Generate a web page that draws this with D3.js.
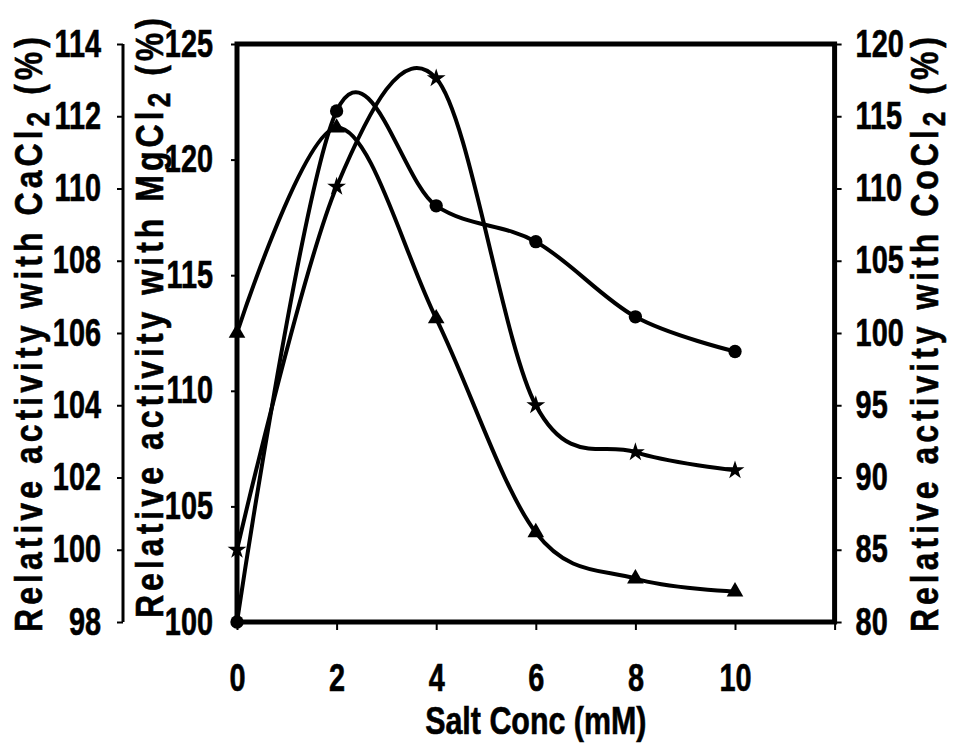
<!DOCTYPE html>
<html>
<head>
  <meta charset="utf-8" />
  <title>Relative activity vs salt concentration</title>
  <script src="https://d3js.org/d3.v7.min.js"></script>
  <style>
    body{margin:0;background:#fff;}
    svg text{font-family:"Liberation Sans",Arial,sans-serif;font-weight:bold;fill:#000;stroke:#000;stroke-width:0.6px;}
  </style>
</head>
<body>
<script>
// salt concentration (mM)
var conc = [0, 2, 4, 6, 8, 10];
// relative activity (%), one array per salt
var cacl2 = [100, 110.05, 113.05, 104.0, 102.7, 102.2];
var mgcl2 = [100, 122.1, 118.0, 116.45, 113.2, 111.7];
var cocl2 = [100, 114.2, 101.0, 86.2, 83.0, 82.1];
// axis ticks
var xTicks = [0, 2, 4, 6, 8, 10, 12];
var caTicks = [98, 100, 102, 104, 106, 108, 110, 112, 114];
var mgTicks = [100, 105, 110, 115, 120, 125];
var coTicks = [80, 85, 90, 95, 100, 105, 110, 115, 120];

var W = 954, H = 745;
var pL = 237, pR = 834.6, pT = 44, pB = 622;
var narrow = 0.76; // squeeze a regular face into a narrow one

var svg = d3.select('body').append('svg').attr('width', W).attr('height', H);

var x = d3.scaleLinear().domain([0, 12]).range([pL, pR]);
var yCa = d3.scaleLinear().domain([98, 114]).range([pB, pT]);
var yMg = d3.scaleLinear().domain([100, 125]).range([pB, pT]);
var yCo = d3.scaleLinear().domain([80, 120]).range([pB, pT]);

function styleAxis(g){
  g.select('.domain').remove();
  g.selectAll('.tick line').attr('stroke', '#000').attr('stroke-width', 2);
  // move each label's position into a transform so it can be squeezed
  g.selectAll('.tick text').each(function(){
    var t = d3.select(this);
    var tx = +t.attr('x') || 0, ty = +t.attr('y') || 0;
    t.attr('x', 0).attr('y', 0)
      .attr('transform', 'translate(' + tx + ',' + ty + ') scale(' + narrow + ',1)')
      .style('font-size', '38px');
  });
}

// x axis
svg.append('g').attr('transform', 'translate(0,' + pB + ')')
  .call(d3.axisBottom(x).tickValues(xTicks).tickSize(8).tickPadding(34)
    .tickFormat(function(d){ return d == 12 ? '' : d; }))
  .call(styleAxis);

// CaCl2 axis, detached on the far left
svg.append('g').attr('transform', 'translate(123,0)')
  .call(d3.axisLeft(yCa).tickValues(caTicks).tickSize(6).tickPadding(16))
  .call(styleAxis);
svg.append('line').attr('x1', 123).attr('x2', 123).attr('y1', pT).attr('y2', pB)
  .attr('stroke', '#000').attr('stroke-width', 3);

// MgCl2 axis on the plot's left edge
svg.append('g').attr('transform', 'translate(' + pL + ',0)')
  .call(d3.axisLeft(yMg).tickValues(mgTicks).tickSize(6).tickPadding(18))
  .call(styleAxis);

// CoCl2 axis on the right edge
svg.append('g').attr('transform', 'translate(' + pR + ',0)')
  .call(d3.axisRight(yCo).tickValues(coTicks).tickSize(7).tickPadding(14))
  .call(styleAxis);

// plot frame
svg.append('rect').attr('x', pL).attr('y', pT)
  .attr('width', pR - pL).attr('height', pB - pT)
  .attr('fill', 'none').attr('stroke', '#000').attr('stroke-width', 5);

// axis titles
function yTitle(tx, ty, salt, len){
  var t = svg.append('text')
    .attr('transform', 'translate(' + tx + ',' + ty + ') rotate(-90) scale(0.82,1)')
    .attr('textLength', len / 0.82).attr('lengthAdjust', 'spacing')
    .style('font-size', '39px');
  t.append('tspan').text('Relative activity with ' + salt);
  t.append('tspan').attr('baseline-shift', '-22%').style('font-size', '32px').text('2');
  t.append('tspan').text(' (%)');
}
yTitle(42, 632, 'CaCl', 595);
yTitle(163, 618, 'MgCl', 600);
yTitle(938, 632, 'CoCl', 595);

svg.append('text')
  .attr('transform', 'translate(' + ((pL + pR) / 2) + ',734) scale(0.8,1)')
  .attr('text-anchor', 'middle').style('font-size', '38px')
  .text('Salt Conc (mM)');

// series
var series = [
  {vals: cacl2, y: yCa, sym: d3.symbolStar, size: 110},
  {vals: mgcl2, y: yMg, sym: d3.symbolCircle, size: 140},
  {vals: cocl2, y: yCo, sym: d3.symbolTriangle, size: 120}
];

series.forEach(function(s){
  var pts = conc.map(function(c, i){ return [x(c), s.y(s.vals[i])]; });
  svg.append('path').datum(pts)
    .attr('d', d3.line().curve(d3.curveCardinal.tension(0)))
    .attr('fill', 'none').attr('stroke', '#000').attr('stroke-width', 4);
  svg.append('g').selectAll('path').data(pts).enter().append('path')
    .attr('transform', function(d){ return 'translate(' + d[0] + ',' + d[1] + ')'; })
    .attr('d', d3.symbol().type(s.sym).size(s.size))
    .attr('fill', '#000');
});
</script>
</body>
</html>
